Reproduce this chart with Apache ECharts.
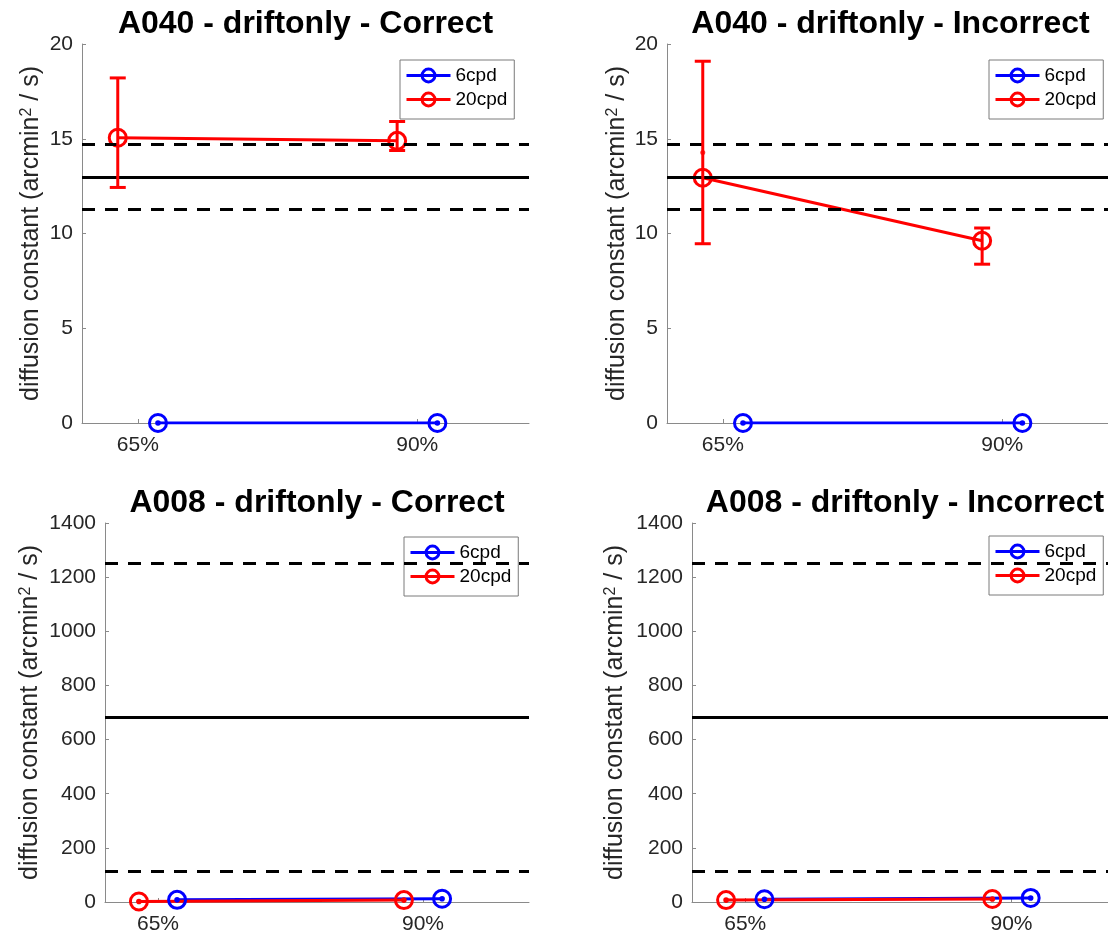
<!DOCTYPE html>
<html>
<head>
<meta charset="utf-8">
<script src="https://cdn.jsdelivr.net/npm/echarts@6/dist/echarts.min.js"></script>
<style>
  html, body { margin: 0; padding: 0; background: #fff; }
  #chart { width: 1108px; height: 938px; }
</style>
</head>
<body>
<div id="chart"></div>
<script>
// ---- data ---------------------------------------------------------------
const xTicks = [1, 2];
const xTickLabels = ['65%', '90%'];
const seriesNames = ['6cpd', '20cpd'];

const panelTitles = [
  'A040 - driftonly - Correct',
  'A040 - driftonly - Incorrect',
  'A008 - driftonly - Correct',
  'A008 - driftonly - Incorrect'
];

// diffusion constants at [65%, 90%]
const a040Correct6 = [0, 0];
const a040Correct20 = [15.05, 14.89];
const a040Correct20Low = [12.43, 14.38];
const a040Correct20High = [18.21, 15.91];

const a040Incorrect6 = [0, 0];
const a040Incorrect20 = [12.94, 9.62];
const a040Incorrect20Low = [9.46, 8.38];
const a040Incorrect20High = [19.09, 10.29];
const a040IncorrectDot = [14.27];   // extra dot drawn at 65% (20cpd)

const a008Correct6 = [8, 12];
const a008Correct20 = [2, 7];
const a008Incorrect6 = [10, 15];
const a008Incorrect20 = [7, 11];

// reference band per subject: [lower, mean, upper]
const a040Ref = [11.26, 12.99, 14.71];
const a008Ref = [114, 683, 1252];

const yMax = [20, 20, 1400, 1400];
const yStep = [5, 5, 200, 200];

// ---- layout & style -----------------------------------------------------
const FONT = '"Liberation Sans", Arial, Helvetica, sans-serif';
const BLUE = '#0000ff';
const RED = '#ff0000';
const AXIS_GRAY = '#8a8a8a';
const TEXT_GRAY = '#262626';
const X_MIN = 0.8, X_MAX = 2.4;
const OFFSET = { '6cpd': 0.072, '20cpd': -0.072 };
const LW = 3;

const grids = [
  { left: 82,  top: 44,  width: 447, height: 379 },
  { left: 667, top: 44,  width: 447, height: 379 },
  { left: 105, top: 523, width: 424, height: 379 },
  { left: 692, top: 523, width: 426, height: 379 }
];
const nameGaps = [38, 37, 62, 64];
const legendPos = [
  { left: 400, top: 60 },
  { left: 989, top: 60 },
  { left: 404, top: 537 },
  { left: 989, top: 536 }
];
const titleTops = [8, 8, 487, 487];

const panels = [
  { six: a040Correct6, twenty: a040Correct20, lo20: a040Correct20Low, hi20: a040Correct20High, ref: a040Ref },
  { six: a040Incorrect6, twenty: a040Incorrect20, lo20: a040Incorrect20Low, hi20: a040Incorrect20High, ref: a040Ref, dot: a040IncorrectDot },
  { six: a008Correct6, twenty: a008Correct20, ref: a008Ref },
  { six: a008Incorrect6, twenty: a008Incorrect20, ref: a008Ref }
];

function lineSeries(idx, name, color, values) {
  return {
    type: 'line', name, xAxisIndex: idx, yAxisIndex: idx, z: 4,
    data: values.map((v, i) => [xTicks[i] + OFFSET[name], v]),
    symbol: 'circle', symbolSize: 17,
    lineStyle: { color, width: LW },
    itemStyle: { color: 'rgba(255,255,255,0)', borderColor: color, borderWidth: LW },
    emphasis: { disabled: true }, silent: true
  };
}

function errorSeries(idx, name, color, values, lo, hi) {
  const low = lo || values, high = hi || values;
  return {
    type: 'custom', xAxisIndex: idx, yAxisIndex: idx, z: 5, silent: true,
    data: values.map((v, i) => [xTicks[i] + OFFSET[name], low[i], high[i]]),
    renderItem(params, api) {
      const x = api.value(0);
      const top = api.coord([x, api.value(2)]);
      const bot = api.coord([x, api.value(1)]);
      const st = { stroke: color, lineWidth: LW, fill: null };
      if (Math.abs(bot[1] - top[1]) < 1) {
        return { type: 'circle', shape: { cx: top[0], cy: top[1], r: 2.8 }, style: { fill: color } };
      }
      const cap = 8;
      return {
        type: 'group',
        children: [
          { type: 'line', shape: { x1: top[0], y1: top[1], x2: bot[0], y2: bot[1] }, style: st },
          { type: 'line', shape: { x1: top[0] - cap, y1: top[1], x2: top[0] + cap, y2: top[1] }, style: st },
          { type: 'line', shape: { x1: bot[0] - cap, y1: bot[1], x2: bot[0] + cap, y2: bot[1] }, style: st }
        ]
      };
    }
  };
}

function refSeries(idx, ref) {
  return {
    type: 'line', xAxisIndex: idx, yAxisIndex: idx, data: [], z: 2, silent: true,
    markLine: {
      silent: true, symbol: ['none', 'none'], animation: false,
      label: { show: false }, emphasis: { disabled: true },
      data: [
        { yAxis: ref[0], lineStyle: { color: '#000', width: LW, type: [13, 10] } },
        { yAxis: ref[1], lineStyle: { color: '#000', width: LW, type: 'solid' } },
        { yAxis: ref[2], lineStyle: { color: '#000', width: LW, type: [13, 10] } }
      ]
    }
  };
}

const series = [];
panels.forEach((p, i) => {
  series.push(refSeries(i, p.ref));
  series.push(lineSeries(i, '6cpd', BLUE, p.six));
  series.push(errorSeries(i, '6cpd', BLUE, p.six));
  series.push(lineSeries(i, '20cpd', RED, p.twenty));
  series.push(errorSeries(i, '20cpd', RED, p.twenty, p.lo20, p.hi20));
  if (p.dot) {
    series.push({
      type: 'scatter', xAxisIndex: i, yAxisIndex: i, z: 6, silent: true,
      data: p.dot.map((v, k) => [xTicks[k] + OFFSET['20cpd'], v]),
      symbol: 'circle', symbolSize: 5, itemStyle: { color: RED }
    });
  }
});

const option = {
  animation: false,
  backgroundColor: '#fff',
  title: panelTitles.map((t, i) => ({
    text: t,
    left: grids[i].left + grids[i].width / 2,
    top: titleTops[i],
    textAlign: 'center',
    padding: 0,
    textStyle: { fontFamily: FONT, fontSize: 32, fontWeight: 'bold', color: '#000' }
  })),
  legend: legendPos.map(pos => ({
    data: seriesNames,
    orient: 'vertical',
    left: pos.left, top: pos.top,
    itemWidth: 44, itemHeight: 16, itemGap: 5, itemTextGap: 6,
    padding: [6, 7, 10, 5],
    borderColor: '#7a7a7a', borderWidth: 1, borderRadius: 0,
    backgroundColor: '#fff',
    selectedMode: false,
    lineStyle: { width: LW },
    itemStyle: { borderWidth: LW },
    textStyle: { fontFamily: FONT, fontSize: 19, color: '#000' }
  })),
  grid: grids.map(g => Object.assign({ outerBoundsMode: 'none', containLabel: false }, g)),
  xAxis: grids.map((g, i) => ({
    gridIndex: i, type: 'value', min: X_MIN, max: X_MAX,
    axisLine: { show: true, onZero: false, lineStyle: { color: AXIS_GRAY, width: 1 } },
    axisTick: { show: true, inside: true, length: 4, customValues: xTicks, lineStyle: { color: AXIS_GRAY } },
    axisLabel: {
      customValues: xTicks, margin: 12,
      formatter: v => xTickLabels[xTicks.indexOf(v)],
      fontFamily: FONT, fontSize: 21, color: TEXT_GRAY
    },
    splitLine: { show: false }
  })),
  yAxis: grids.map((g, i) => ({
    gridIndex: i, type: 'value', min: 0, max: yMax[i], interval: yStep[i],
    axisLine: { show: true, lineStyle: { color: AXIS_GRAY, width: 1 } },
    axisTick: { show: true, inside: true, length: 4, lineStyle: { color: AXIS_GRAY } },
    axisLabel: { fontFamily: FONT, fontSize: 21, color: TEXT_GRAY, margin: 9, formatter: v => String(v) },
    splitLine: { show: false },
    name: 'diffusion constant (arcmin{sup|2} / s)',
    nameLocation: 'middle', nameRotate: 90, nameGap: nameGaps[i],
    nameTextStyle: {
      fontFamily: FONT, fontSize: 25, color: TEXT_GRAY,
      rich: { sup: { fontFamily: FONT, fontSize: 16, color: TEXT_GRAY, verticalAlign: 'top' } }
    }
  })),
  series
};

const chart = echarts.init(document.getElementById('chart'), null, { renderer: 'canvas' });
chart.setOption(option);
</script>
</body>
</html>
